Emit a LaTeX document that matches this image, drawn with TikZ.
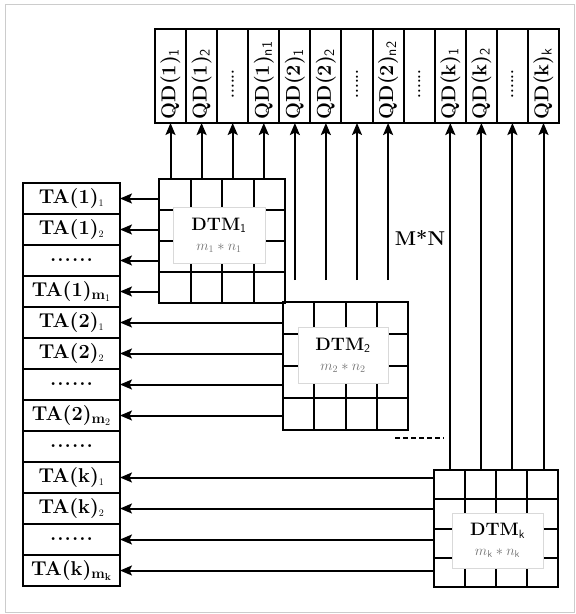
\documentclass[tikz,border=0pt]{standalone}
\usepackage{graphicx}
\usetikzlibrary{arrows.meta,positioning,calc}

\newcommand{\sixdots}{.\kern1pt.\kern1pt.\kern1pt.\kern1pt.\kern1pt.}
\newcommand{\qd}[1]{\rotatebox{90}{\makebox[86pt][l]{#1}}}
\newcommand{\qddots}{\qd{\hspace{21pt}{\fontsize{15}{16}\selectfont......}}}
\newcommand{\dims}[1]{{\fontsize{14}{15}\selectfont\mdseries\color{black!55}$#1$}}
\newcommand{\innergrid}[1]{%
  \foreach \i in {1,2,3} {
    \draw[gridline] ($(#1.north west)!\i/4!(#1.north east)$) -- ($(#1.south west)!\i/4!(#1.south east)$);
    \draw[gridline] ($(#1.north west)!\i/4!(#1.south west)$) -- ($(#1.north east)!\i/4!(#1.south east)$);
  }}

\begin{document}
\begin{tikzpicture}[
  x=1pt, y=-1pt,
  font=\fontsize{20}{22}\selectfont\bfseries,
  cell/.style={rectangle,draw,line width=2pt,outer sep=0pt,inner sep=0pt},
  qdcell/.style={cell,minimum width=31.1pt,minimum height=94pt},
  tacell/.style={cell,minimum width=97pt,minimum height=31pt},
  dtmbox/.style={rectangle,draw,line width=2pt,outer sep=0pt,inner sep=0pt},
  gridline/.style={line width=2pt},
  dtmlabel/.style={rectangle,draw=gray!30,fill=white,line width=0.6pt,inner sep=0pt,align=center,
    font=\fontsize{18}{20}\selectfont\bfseries},
  arr/.style={-{Stealth[length=12pt,width=10pt,inset=2.5pt]},line width=2pt},
]
\useasboundingbox (0,0) rectangle (576,614);
\draw[gray!40,line width=0.8pt] (5,4) rectangle (574,612);

% output row
\node[qdcell] (qd1) at (170.5,76) {\qd{QD(1)$_\mathsf{1}$}};
\node[qdcell] (qd2) at (201.6,76) {\qd{QD(1)$_\mathsf{2}$}};
\node[qdcell] (qd3) at (232.7,76) {\qddots};
\node[qdcell] (qd4) at (263.8,76) {\qd{QD(1)$_\mathsf{n1}$}};
\node[qdcell] (qd5) at (294.9,76) {\qd{QD(2)$_\mathsf{1}$}};
\node[qdcell] (qd6) at (325.9,76) {\qd{QD(2)$_\mathsf{2}$}};
\node[qdcell] (qd7) at (357.0,76) {\qddots};
\node[qdcell] (qd8) at (388.1,76) {\qd{QD(2)$_\mathsf{n2}$}};
\node[qdcell] (qd9) at (419.2,76) {\qddots};
\node[qdcell] (qd10) at (450.3,76) {\qd{QD(k)$_\mathsf{1}$}};
\node[qdcell] (qd11) at (481.4,76) {\qd{QD(k)$_\mathsf{2}$}};
\node[qdcell] (qd12) at (512.4,76) {\qddots};
\node[qdcell] (qd13) at (543.5,76) {\qd{QD(k)$_\mathsf{k}$}};

% input column
\node[tacell] (ta1) at (71.5,198.5) {TA(1)$_{\scriptscriptstyle 1}$};
\node[tacell,below=0pt of ta1] (ta2) {TA(1)$_{\scriptscriptstyle 2}$};
\node[tacell,below=0pt of ta2] (ta3) {\sixdots};
\node[tacell,below=0pt of ta3] (ta4) {TA(1)$_{\mathbf{m}_1}$};
\node[tacell,below=0pt of ta4] (ta5) {TA(2)$_{\scriptscriptstyle 1}$};
\node[tacell,below=0pt of ta5] (ta6) {TA(2)$_{\scriptscriptstyle 2}$};
\node[tacell,below=0pt of ta6] (ta7) {\sixdots};
\node[tacell,below=0pt of ta7] (ta8) {TA(2)$_{\mathbf{m}_2}$};
\node[tacell,below=0pt of ta8] (ta9) {\sixdots};
\node[tacell,below=0pt of ta9] (ta10) {TA(k)$_{\scriptscriptstyle 1}$};
\node[tacell,below=0pt of ta10] (ta11) {TA(k)$_{\scriptscriptstyle 2}$};
\node[tacell,below=0pt of ta11] (ta12) {\sixdots};
\node[tacell,below=0pt of ta12] (ta13) {TA(k)$_{\mathbf{m}_\mathbf{k}}$};

% matrices
\node[dtmbox,minimum width=126pt,minimum height=124pt] (g1) at (222,241) {};
\innergrid{g1}
\node[dtmlabel,minimum width=92pt,minimum height=56pt] (l1) at (219,235)
  {DTM$_\mathsf{1}$\\[0pt]\dims{m_1\ast n_1}};
\node[dtmbox,minimum width=125pt,minimum height=128pt] (g2) at (345.5,366) {};
\innergrid{g2}
\node[dtmlabel,minimum width=90pt,minimum height=56pt] (l2) at (343,355)
  {DTM$_\mathsf{2}$\\[0pt]\dims{m_2\ast n_2}};
\node[dtmbox,minimum width=124pt,minimum height=117pt] (gk) at (496,528.5) {};
\innergrid{gk}
\node[dtmlabel,minimum width=91pt,minimum height=55pt] (lk) at (497.5,540.5)
  {DTM$_\mathsf{k}$\\[0pt]\dims{m_\mathsf{k}\ast n_\mathsf{k}}};

\node (mn) at (420,238) {M*N};
\draw[line width=2.2pt,dash pattern=on 5pt off 3pt] (395,438) -- (444,438);

% connectors
\coordinate (s2) at (0,280);
\foreach \q in {1,2,3,4} \draw[arr] (g1.north -| qd\q.south) -- (qd\q.south);
\foreach \q in {5,6,7,8} \draw[arr] (s2 -| qd\q.south) -- (qd\q.south);
\foreach \q in {10,11,12,13} \draw[arr] (gk.north -| qd\q.south) -- (qd\q.south);
\foreach \t in {1,2,3,4} \draw[arr] (g1.west |- ta\t) -- (ta\t.east);
\foreach \t in {5,6,7,8} \draw[arr] (g2.west |- ta\t) -- (ta\t.east);
\foreach \t in {10,11,12,13} \draw[arr] (gk.west |- ta\t) -- (ta\t.east);
\end{tikzpicture}
\end{document}
